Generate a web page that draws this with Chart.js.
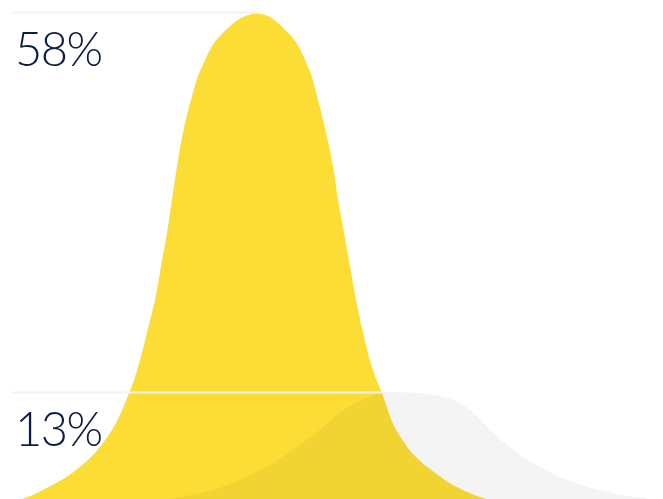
<!DOCTYPE html>
<html>
<head>
<meta charset="utf-8">
<script src="https://cdn.jsdelivr.net/npm/chart.js@4"></script>
<style>
  body { margin: 0; background: #fff; }
  #chart { display: block; }
</style>
</head>
<body>
<canvas id="chart" width="663" height="499"></canvas>
<script>
// yellow curve
const yellowX = [0, 15, 37, 80, 110, 129, 138, 147, 155, 161, 167, 172, 177, 183, 191, 202, 222, 257, 289, 308, 318, 326, 333, 338, 344, 350, 356, 363, 372, 382, 398, 427, 480, 530, 663];
const yellowY = [0, 0.2, 1.1, 4.2, 8.2, 12.9, 16.0, 20.1, 24.0, 27.9, 31.9, 35.8, 39.7, 43.7, 47.6, 51.5, 55.4, 57.8, 55.4, 51.5, 47.6, 43.7, 39.7, 35.8, 31.9, 27.9, 24.0, 20.1, 16.0, 12.9, 8.2, 4.2, 0.64, 0.05, 0];

// grey curve
const greyX = [100, 150, 200, 240, 273, 297, 320, 340, 360, 383, 405, 425, 453, 473, 490, 510, 533, 567, 613, 650, 663];
const greyY = [0, 0.15, 1.1, 2.65, 4.66, 6.55, 8.6, 10.6, 12.0, 13, 13, 12.85, 12.1, 10.6, 8.6, 6.55, 4.66, 2.65, 1.1, 0.4, 0.3];

// labelled levels
const levels = [58, 13];
const levelLabels = ['58%', '13%'];

function toPoints(xs, ys) {
	return xs.map(function(x, i) { return { x: x, y: ys[i] }; });
}

// grey area is multiplied onto the yellow one (filler draws before our hook, so switch after the yellow)
const multiplyPlugin = {
	id: 'multiply',
	afterDatasetDraw: function(chart, args) {
		if (args.index === 0) {
			chart.ctx.save();
			chart.ctx.globalCompositeOperation = 'multiply';
		} else if (args.index === 1) {
			chart.ctx.restore();
		}
	}
};

const levelPlugin = {
	id: 'levels',
	afterDatasetsDraw: function(chart) {
		const ctx = chart.ctx;
		const xs = chart.scales.x;
		const ys = chart.scales.y;
		const series = [[yellowX, yellowY], [greyX, greyY]];
		ctx.save();
		levels.forEach(function(lv, i) {
			// line runs from the left edge to the peak of the curve
			const s = series[i];
			const peak = s[1].indexOf(Math.max.apply(null, s[1]));
			const endX = xs.getPixelForValue(s[0][peak]);
			const y = Math.round(ys.getPixelForValue(lv)) + 0.5;
			ctx.strokeStyle = '#f2f2f2';
			ctx.lineWidth = 2;
			ctx.beginPath();
			ctx.moveTo(12, y);
			ctx.lineTo(endX, y);
			ctx.stroke();
			ctx.fillStyle = '#0c1c44';
			ctx.font = '300 47px Lato';
			ctx.letterSpacing = '-1.5px';
			ctx.textBaseline = 'alphabetic';
			ctx.fillText(levelLabels[i], 15, y + 53);
		});
		ctx.restore();
	}
};

const ctx = document.getElementById('chart');
const chart = new Chart(ctx, {
	type: 'line',
	data: {
		datasets: [{
			data: toPoints(yellowX, yellowY),
			backgroundColor: '#fcdd35',
			fill: 'origin',
			borderWidth: 0,
			pointRadius: 0,
			tension: 0.4,
			order: 2
		}, {
			data: toPoints(greyX, greyY),
			backgroundColor: '#f4f4f4',
			fill: 'origin',
			borderWidth: 0,
			pointRadius: 0,
			tension: 0.4,
			order: 1
		}]
	},
	options: {
		responsive: false,
		animation: false,
		devicePixelRatio: 1,
		layout: { padding: 0 },
		plugins: { legend: { display: false }, tooltip: { enabled: false } },
		scales: {
			x: { type: 'linear', display: false, min: 0, max: 663 },
			y: { display: false, min: 0.4, max: 59.4 }
		}
	},
	plugins: [multiplyPlugin, levelPlugin]
});
</script>
</body>
</html>
